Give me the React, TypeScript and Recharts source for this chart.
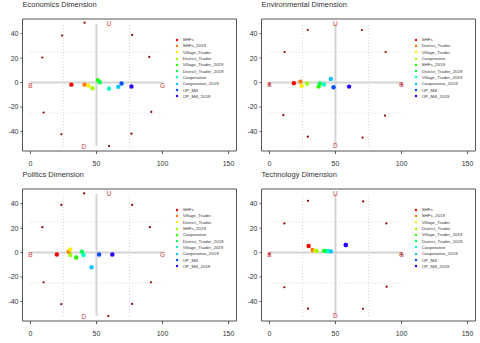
import React from "react";
import { ScatterChart, Scatter, XAxis, YAxis, ReferenceLine, ReferenceArea, Legend } from "recharts";

// rainbow(13)[1:10], same order as each panel's legend
const palette = ["#FF0000", "#FF7600", "#FFEC00", "#9DFF00", "#27FF00", "#00FF4E", "#00FFC4", "#00C4FF", "#004EFF", "#2700FF"];

const xTicks = [0, 50, 100, 150];
const yTicks = [-40, -20, 0, 20, 40];

// Economics
const econGroups = ["SHFs", "SHFs_2019", "Village_Trader", "District_Trader", "Village_Trader_2019", "District_Trader_2019", "Cooperative", "Cooperative_2019", "OP_Mill", "OP_Mill_2019"];
const econX = [31, 41, 44, 47, 51, 52.5, 59.5, 66.5, 69, 76.5];
const econY = [-1.7, -1.7, -2.5, -4.7, 2, 0.3, -5, -3.5, -0.8, -3.2];
const econRingX = [41, 24, 9, 10, 23.5, 59.5, 77, 90, 91.5, 76.5];
const econRingY = [49, 38.5, 20.5, -24.5, -42.3, -52, 39, 21, -24, -41.8];
const econLabelX = [59.5, 40.5, 0, 100];
const econLabelY = [48.3, -52.5, -2, -2];

// Environmental
const envGroups = ["SHFs", "District_Trader", "Village_Trader", "Cooperative", "SHFs_2019", "District_Trader_2019", "Village_Trader_2019", "Cooperative_2019", "OP_Mill", "OP_Mill_2019"];
const envX = [18.5, 23.5, 24.5, 28.5, 37.2, 38.3, 41.3, 46.5, 48.5, 60.3];
const envY = [-0.5, 0.8, -2.7, -0.8, -3.3, -0.8, -1.6, 3, -3.8, -3.3];
const envRingX = [29, 11.5, 10.5, 29, 70, 88, 87.5, 70.5, 0, 100];
const envRingY = [43, 25, -26.7, -44.3, 43, 25, -27, -45, -1.5, -1.5];
const envLabelX = [50, 50, 0, 100];
const envLabelY = [48.6, -51.6, -1.5, -1.5];

// Politics
const polGroups = ["SHFs", "Village_Trader", "District_Trader", "SHFs_2019", "Cooperative", "District_Trader_2019", "Village_Trader_2019", "Cooperative_2019", "OP_Mill", "OP_Mill_2019"];
const polX = [20, 29, 30, 30.2, 34.7, 39, 40.2, 46.3, 52, 62];
const polY = [-1.6, 0.6, 2.5, -1.9, -4.1, 0.6, -1.9, -12, -1.6, -1.6];
const polRingX = [40.7, 23.4, 9, 10, 23.4, 59, 77, 90.4, 91.2, 77];
const polRingY = [48.4, 39, 20.8, -24.3, -42.2, -52, 39, 20.8, -24.3, -42];
const polLabelX = [59.5, 40.5, 0, 100];
const polLabelY = [48.4, -52, -1.8, -1.8];

// Technology
const techGroups = ["SHFs", "SHFs_2019", "Village_Trader", "District_Trader", "Village_Trader_2019", "District_Trader_2019", "Cooperative", "Cooperative_2019", "OP_Mill", "OP_Mill_2019"];
const techX = [29.7, 32.7, 34.7, 35.7, 41.2, 42.5, 44.5, 46.5, 57.8, 57.8];
const techY = [5.4, 2.1, 1.4, 1.4, 1.4, 1.3, 1.3, 1.0, 6.2, 6.2];
const techRingX = [29.2, 11.3, 11.3, 29.2, 71, 88.5, 88.7, 70.8, 0, 100];
const techRingY = [42.3, 23.8, -28.4, -45.9, 41.8, 23.8, -27.9, -46, -1.5, -1.5];
const techLabelX = [50, 50, 0, 100];
const techLabelY = [48.4, -51.7, -1.5, -1.5];

const compass = ["U", "D", "B", "G"];

const font = "'Liberation Sans', Arial, sans-serif";
const lineGrey = "#d4d4d4";
const boxGrey = "#555";
const ringRed = "#8B0000";
const labelRed = "#CD3B3B";

// legend keeps the plotting order of the groups (recharts would sort it)
const renderLegend = (groups: string[]) => (
  <div style={{ fontFamily: font, fontSize: 4.4, color: "#333" }}>
    {groups.map((g, i) => (
      <div key={g} style={{ display: "flex", alignItems: "center", height: 6.3, whiteSpace: "nowrap" }}>
        <svg width={6} height={6} style={{ marginRight: 3 }}>
          <circle cx={3} cy={3} r={1.2} fill={palette[i]} />
        </svg>
        <span>{g}</span>
      </div>
    ))}
  </div>
);

interface PanelProps {
  title: string;
  left: number;
  top: number;
  groups: string[];
  xs: number[];
  ys: number[];
  ringX: number[];
  ringY: number[];
  labelX: number[];
  labelY: number[];
}

function Panel({ title, left, top, groups, xs, ys, ringX, ringY, labelX, labelY }: PanelProps) {
  const ring = ringX.map((x, i) => ({ x, y: ringY[i] }));
  const labels = labelX.map((x, i) => ({ x, y: labelY[i], label: compass[i] }));

  return (
    <div style={{ position: "absolute", left, top, width: 240, height: 172 }}>
      <div style={{ position: "absolute", left: 22.5, top: 1, fontFamily: font, fontSize: 7.5, lineHeight: "7.5px", color: "#333", whiteSpace: "nowrap" }}>
        {title}
      </div>
      <ScatterChart width={240} height={172} margin={{ top: 19, right: 3.5, bottom: 0, left: 0 }}>
        <XAxis
          type="number"
          dataKey="x"
          domain={[-6, 156]}
          ticks={xTicks}
          allowDataOverflow
          height={21}
          axisLine={false}
          tickSize={3}
          tickMargin={7.5}
          tickLine={{ stroke: boxGrey }}
          tick={{ fontSize: 7, fill: "#333", fontFamily: font }}
        />
        <YAxis
          type="number"
          dataKey="y"
          domain={[-56, 52]}
          ticks={yTicks}
          allowDataOverflow
          width={22.5}
          axisLine={false}
          tickSize={2}
          tickMargin={2}
          tickLine={{ stroke: boxGrey }}
          tick={{ fontSize: 7, fill: "#333", fontFamily: font }}
        />
        <ReferenceArea x1={-6} x2={156} y1={-56} y2={52} fill="none" stroke={boxGrey} strokeWidth={1} />
        <ReferenceLine segment={[{ x: 25, y: -52 }, { x: 25, y: 48 }]} stroke={lineGrey} strokeDasharray="1 2" />
        <ReferenceLine segment={[{ x: 75, y: -52 }, { x: 75, y: 48 }]} stroke={lineGrey} strokeDasharray="1 2" />
        <ReferenceLine segment={[{ x: 0, y: 25 }, { x: 100, y: 25 }]} stroke={lineGrey} strokeDasharray="1 2" />
        <ReferenceLine segment={[{ x: 0, y: -25 }, { x: 100, y: -25 }]} stroke={lineGrey} strokeDasharray="1 2" />
        <ReferenceLine segment={[{ x: 0, y: 0 }, { x: 100, y: 0 }]} stroke={lineGrey} strokeWidth={2} />
        <ReferenceLine segment={[{ x: 50, y: -52 }, { x: 50, y: 48 }]} stroke={lineGrey} strokeWidth={2} />
        <Scatter
          data={ring}
          fill={ringRed}
          legendType="none"
          isAnimationActive={false}
          shape={(p: any) => <circle cx={p.cx} cy={p.cy} r={1.1} fill={ringRed} />}
        />
        <Scatter
          data={labels}
          fill={labelRed}
          legendType="none"
          isAnimationActive={false}
          shape={(p: any) => (
            <text x={p.cx} y={p.cy} textAnchor="middle" dominantBaseline="central" fontSize={6.5} fontFamily={font} fill={labelRed}>
              {p.payload.label}
            </text>
          )}
        />
        {groups.map((g, i) => (
          <Scatter
            key={g}
            name={g}
            data={[{ x: xs[i], y: ys[i] }]}
            fill={palette[i]}
            isAnimationActive={false}
            shape={(p: any) => <circle cx={p.cx} cy={p.cy} r={2.2} fill={palette[i]} />}
          />
        ))}
        <Legend
          layout="vertical"
          align="center"
          verticalAlign="middle"
          content={() => renderLegend(groups)}
          wrapperStyle={{ left: 173.7, top: 36.5, width: 66, height: 66 }}
        />
      </ScatterChart>
    </div>
  );
}

export default function App() {
  return (
    <div style={{ position: "absolute", left: 0, top: 0, width: 480, height: 343, background: "#fff" }}>
      <Panel title="Economics Dimension" left={0} top={0} groups={econGroups} xs={econX} ys={econY} ringX={econRingX} ringY={econRingY} labelX={econLabelX} labelY={econLabelY} />
      <Panel title="Environmental Dimension" left={239} top={0} groups={envGroups} xs={envX} ys={envY} ringX={envRingX} ringY={envRingY} labelX={envLabelX} labelY={envLabelY} />
      <Panel title="Politics Dimension" left={0} top={170} groups={polGroups} xs={polX} ys={polY} ringX={polRingX} ringY={polRingY} labelX={polLabelX} labelY={polLabelY} />
      <Panel title="Technology Dimension" left={239} top={170} groups={techGroups} xs={techX} ys={techY} ringX={techRingX} ringY={techRingY} labelX={techLabelX} labelY={techLabelY} />
    </div>
  );
}
